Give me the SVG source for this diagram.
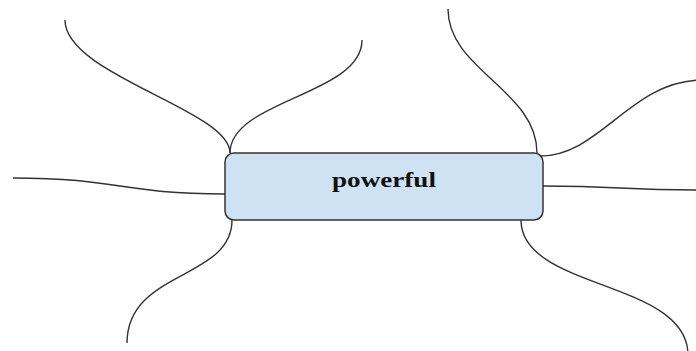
<svg xmlns="http://www.w3.org/2000/svg" width="696" height="351" viewBox="0 0 696 351">
<style>
.c{fill:none;stroke:#333;stroke-width:1.4}
.n{fill:#cfe2f3;stroke:#333;stroke-width:1.5}
.t{font-family:"Liberation Serif",serif;font-weight:bold;font-size:22px;fill:#111}
</style>
<rect width="696" height="351" fill="#fff"/>
<g id="connectors">
<path class="c" d="M230,153 C230,110 65,75 65,20"/>
<path class="c" d="M230,153 C230,100 362,95 362,40"/>
<path class="c" d="M13,178 C120,178 120,194 225,194"/>
<path class="c" d="M543,186 C620,186 620,190 696,190"/>
<path class="c" d="M537,153 C537,90 448,70 448,9"/>
<path class="c" d="M540,156 C600,156 630,82 700,80"/>
<path class="c" d="M232,220 C232,280 127,270 127,343"/>
<path class="c" d="M521,220 C521,290 688,280 688,355"/>
</g>
<g id="node-powerful">
<rect class="n" x="225" y="153" width="318" height="67" rx="9"/>
<text class="t" x="332" y="187" textLength="104" lengthAdjust="spacingAndGlyphs">powerful</text>
</g>
</svg>
